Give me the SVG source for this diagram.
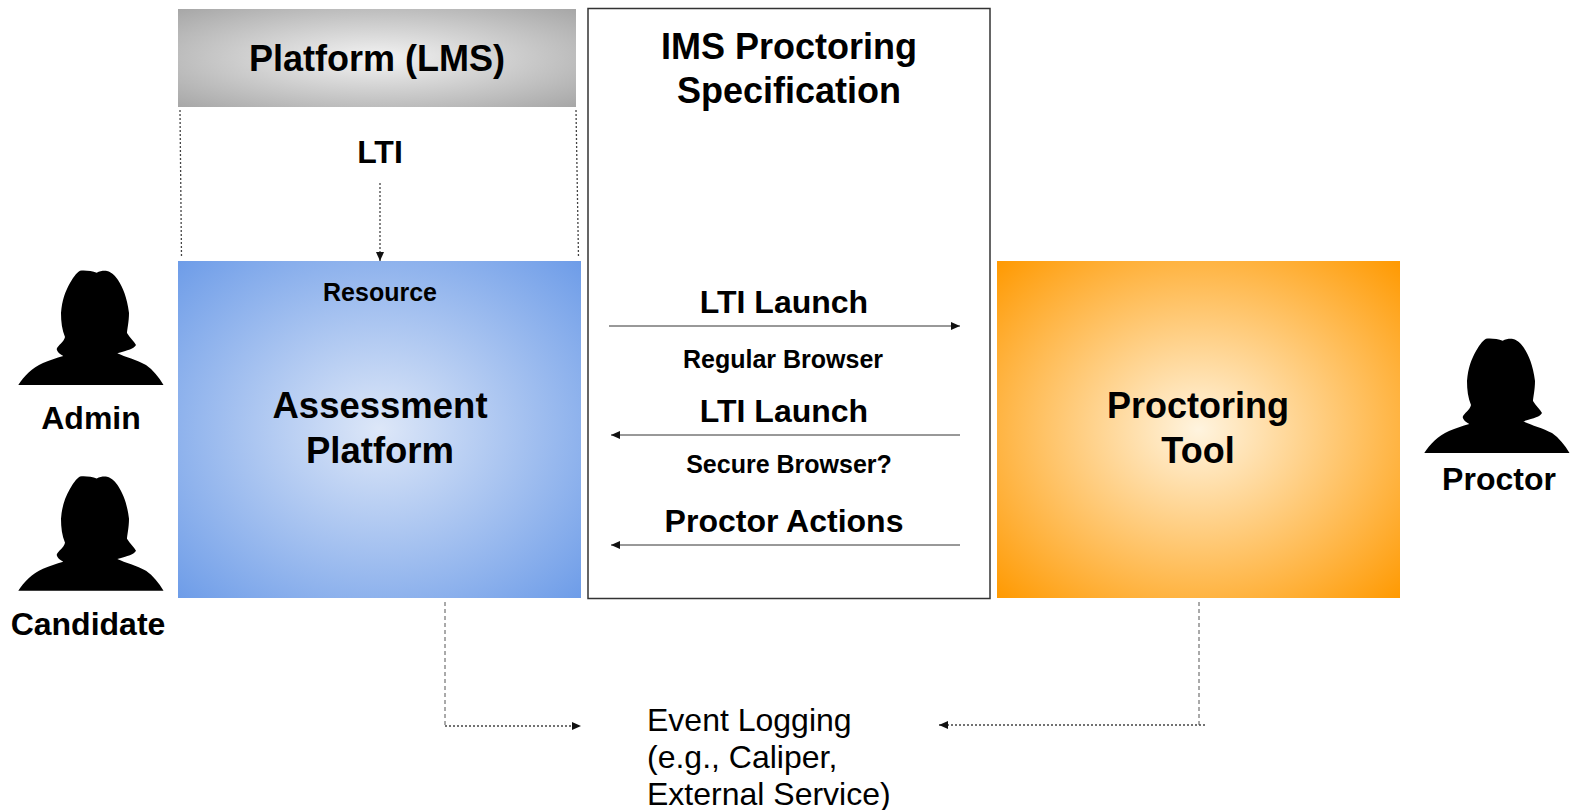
<svg xmlns="http://www.w3.org/2000/svg" width="1570" height="810" viewBox="0 0 1570 810">
<defs>
<radialGradient id="gGray" cx="50%" cy="50%" r="71%"><stop offset="0" stop-color="#f3f3f3"/><stop offset="1" stop-color="#a6a6a6"/></radialGradient>
<radialGradient id="gBlue" cx="50%" cy="50%" r="71%"><stop offset="0" stop-color="#dde7f8"/><stop offset="1" stop-color="#6d9ce8"/></radialGradient>
<radialGradient id="gOrange" cx="50%" cy="50%" r="71%"><stop offset="0" stop-color="#fff4df"/><stop offset="1" stop-color="#ff9900"/></radialGradient>
<marker id="arr" markerUnits="userSpaceOnUse" markerWidth="10" markerHeight="10" refX="9" refY="4" orient="auto"><path d="M0 0L9 4L0 8Z" fill="#111"/></marker>
<path id="person" fill="#000" d="M80 20.700C85 20 92 21 96.700 22.700C100 21 104 20.500 107 21C112 22 116 27 118 30C123 38 127 47 129 63C129 72 127 80 127 83C130 88 134 91 136 95C134 99 128 100 117.300 103.300C125 107 137 110 146 115C153 120 159 127 163.500 135L18.300 135C24 126 32 118 43 113C50 110 56 108 63.300 106C60 104 57 102 56.700 99C58 95 64 92 65 87C62 80 61 72 61 63C62 50 65 42 70 33C73 28 76 23 80 20.700Z"/>
</defs>
<style>
text{font-family:"Liberation Sans",Arial,sans-serif;fill:#000;text-anchor:middle}
.b{font-weight:700}
.s{font-size:25px}
.m{font-size:32px}
.l{font-size:36px}
.n{font-size:32px;text-anchor:start}
.conn{fill:none;stroke:#333;stroke-width:1}
.dot{stroke-dasharray:2 2;stroke:#444;stroke-width:1.300}
.dash{stroke-dasharray:4 3;stroke:#555}
</style>
<rect width="1570" height="810" fill="#fff"/>
<g id="platform-lms"><rect x="178" y="9" width="398" height="98" fill="url(#gGray)"/><text class="b l" x="377" y="71">Platform (LMS)</text></g>
<g id="ims-spec"><rect x="588" y="8.500" width="402" height="590" fill="#fff" stroke="#333" stroke-width="1.500"/><text class="b l" x="789" y="59">IMS Proctoring</text><text class="b l" x="789" y="103">Specification</text>
<text class="b m" x="784" y="313">LTI Launch</text><text class="b s" x="783" y="368">Regular Browser</text><text class="b m" x="784" y="422">LTI Launch</text><text class="b s" x="789" y="473">Secure Browser?</text><text class="b m" x="784" y="532">Proctor Actions</text></g>
<g id="assessment-platform"><rect x="178" y="261" width="403" height="337" fill="url(#gBlue)"/><text class="b s" x="380" y="301">Resource</text><text class="b" font-size="36.500" x="380" y="418">Assessment</text><text class="b" font-size="36.500" x="380" y="463">Platform</text></g>
<g id="proctoring-tool"><rect x="997" y="261" width="403" height="337" fill="url(#gOrange)"/><text class="b l" x="1198" y="418">Proctoring</text><text class="b l" x="1198" y="463">Tool</text></g>
<g id="lti-label"><text class="b m" x="380" y="163">LTI</text></g>
<g id="admin"><use href="#person" y="250"/><text class="b m" x="91" y="429">Admin</text></g>
<g id="candidate"><use href="#person" y="455.700"/><text class="b m" x="88" y="635">Candidate</text></g>
<g id="proctor"><use href="#person" x="1406" y="318"/><text class="b m" x="1499" y="490">Proctor</text></g>
<g id="event-logging"><text class="n" x="647" y="731">Event Logging</text><text class="n" x="647" y="768">(e.g., Caliper,</text><text class="n" x="647" y="805">External Service)</text></g>
<g id="connectors">
<path class="conn dot" d="M180 110L181.500 258"/>
<path class="conn dot" d="M576 110L578.500 258"/>
<path class="conn dot" marker-end="url(#arr)" d="M380 183L380 261"/>
<path class="conn" marker-end="url(#arr)" d="M609 326L960 326"/>
<path class="conn" marker-end="url(#arr)" d="M960 435L611 435"/>
<path class="conn" marker-end="url(#arr)" d="M960 545L611 545"/>
<path class="conn dash" d="M445 602L445 726"/>
<path class="conn dot" marker-end="url(#arr)" d="M445 726L581 726"/>
<path class="conn dash" d="M1199 602L1199 726"/>
<path class="conn dot" marker-end="url(#arr)" d="M1205 725L939 725"/>
</g>
</svg>
